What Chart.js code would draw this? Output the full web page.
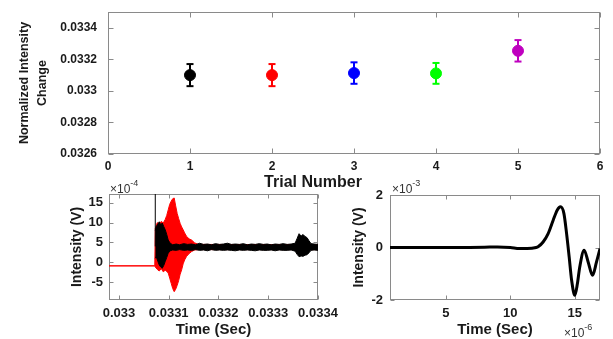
<!DOCTYPE html>
<html>
<head>
<meta charset="utf-8">
<script src="https://cdn.jsdelivr.net/npm/chart.js@4.4.1/dist/chart.umd.min.js"></script>
<style>
  body { margin: 0; background: #fff; }
  #fig { position: relative; width: 613px; height: 339px; overflow: hidden;
         font-family: "Liberation Sans", Arial, sans-serif; color: #1a1a1a; }
  #fig canvas { position: absolute; }
  .lbl { position: absolute; white-space: nowrap; line-height: 1; }
  .mult { font-size: 12px; color: #333; }
  .mult sup { font-size: 9px; position: relative; top: -2px; }
</style>
</head>
<body>
<div id="fig">
  <canvas id="trialChart" width="613" height="175" style="left:0;top:0"></canvas>
  <canvas id="burstChart" width="345" height="161" style="left:0;top:178px"></canvas>
  <canvas id="pulseChart" width="268" height="161" style="left:345px;top:178px"></canvas>
  <div class="lbl" style="left:313px;top:182px;transform:translate(-50%,-50%);font-size:16px;font-weight:bold">Trial Number</div>
  <div class="lbl mult" style="left:110px;top:181px">&times;10<sup>-4</sup></div>
  <div class="lbl mult" style="left:392px;top:181px">&times;10<sup>-3</sup></div>
  <div class="lbl mult" style="left:564px;top:325px">&times;10<sup>-6</sup></div>
</div>

<script>
// top panel: mean normalized change per trial, with error bars
const trialNo = [1, 2, 3, 4, 5];
const meanChange = [0.03310, 0.03310, 0.033113, 0.033111, 0.033254];
const errChange = [0.00007, 0.00007, 0.000068, 0.000066, 0.000068];
const trialColors = ['#000000', '#ff0000', '#0000ff', '#00ff00', '#bf00bf'];
const trialTicks = [0, 1, 2, 3, 4, 5, 6];
const changeTicks = [0.0326, 0.0328, 0.033, 0.0332, 0.0334];
const changeLabels = ['0.0326', '0.0328', '0.033', '0.0332', '0.0334'];

// bottom left: burst signal (seconds, x1e-4 V), drawn as upper/lower envelope
const redTime = [0.03298, 0.033072, 0.033073, 0.033077, 0.033081, 0.033085, 0.033089, 0.033093,
  0.033096, 0.033099, 0.033102, 0.033105, 0.033108, 0.033111, 0.033114, 0.033117, 0.03312,
  0.033123, 0.033126, 0.033129, 0.033132, 0.033136, 0.033141, 0.033146, 0.033152, 0.03316, 0.0334];
const redHigh = [-0.9, -0.9, 8.5, 10.0, 9.6, 10.3, 9.9, 10.8, 11.8, 13.2, 14.6, 15.4, 16.0, 16.2,
  14.2, 12.3, 11.0, 9.8, 8.9, 8.2, 7.4, 6.5, 5.9, 5.6, 4.9, 4.5, 4.4];
const redLow = [-0.9, -0.9, -1.2, -1.8, -2.2, -1.6, -2.4, -2.0, -2.3, -2.7, -4.0, -5.3, -6.6, -7.4,
  -6.8, -5.8, -4.6, -3.0, -1.9, -0.4, 0.6, 1.5, 2.2, 2.7, 3.1, 3.2, 3.2];

const blackTime = [0.033073, 0.033075, 0.033078, 0.033081, 0.033084, 0.033087, 0.03309, 0.033093,
  0.033096, 0.033099, 0.033103, 0.033108, 0.033115, 0.033122, 0.03313, 0.033138, 0.033146,
  0.033154, 0.033162, 0.03317, 0.033178, 0.033186, 0.033194, 0.033202, 0.03321, 0.033218,
  0.033226, 0.033234, 0.033242, 0.03325, 0.033258, 0.033266, 0.033274, 0.033282, 0.03329,
  0.033298, 0.033306, 0.033314, 0.033322, 0.03333, 0.033338, 0.033346, 0.033354, 0.033358,
  0.033362, 0.033366, 0.03337, 0.033374, 0.033378, 0.033382, 0.033386, 0.033392, 0.0334];
const blackHigh = [8.0, 9.0, 9.6, 10.2, 9.4, 9.9, 9.0, 8.2, 7.0, 5.6, 4.8, 4.4, 4.6, 4.4, 4.7, 4.5,
  4.6, 4.4, 4.8, 4.5, 4.6, 4.4, 4.7, 4.5, 4.6, 4.8, 4.5, 4.6, 4.5, 4.7, 4.4, 4.6, 4.5, 4.7, 4.5,
  4.6, 4.4, 4.6, 4.5, 4.7, 4.5, 4.6, 4.8, 6.0, 7.2, 6.6, 7.0, 6.5, 6.2, 5.4, 4.7, 4.6, 4.5];
const blackLow = [1.0, 1.4, 0.3, -0.7, -1.2, -1.5, -0.8, 0.2, 1.2, 2.3, 2.9, 3.1, 3.0, 3.2, 3.0, 3.1,
  3.0, 3.2, 3.0, 3.1, 2.9, 3.2, 3.0, 3.1, 3.0, 3.1, 3.0, 2.9, 3.1, 3.0, 3.1, 3.0, 2.9, 3.1, 3.0,
  3.0, 3.1, 2.9, 3.1, 3.0, 3.0, 3.1, 2.8, 2.0, 1.4, 1.6, 1.5, 1.8, 1.9, 2.4, 3.0, 3.1, 3.0];
const spikeTime = [0.033073, 0.033073];
const spikeValue = [4.0, 30];

const burstTimeTicks = [0.033, 0.0331, 0.0332, 0.0333, 0.0334];
const burstTimeLabels = ['0.033', '0.0331', '0.0332', '0.0333', '0.0334'];
const burstTicks = [-5, 0, 5, 10, 15];

// bottom right: single pulse (x1e-6 s, x1e-3 V)
const pulseTime = [0.67, 2, 4, 6, 8, 9, 10, 10.7, 11.3, 12.0, 12.15, 12.54, 12.93, 13.32, 13.63,
  13.89, 14.15, 14.36, 14.56, 14.75, 15.0, 15.2, 15.38, 15.72, 16.03, 16.37, 16.68, 16.95];
const pulseValue = [0, 0, 0, 0, 0.01, 0.02, 0.0, -0.04, -0.04, 0.0, 0.03, 0.21, 0.53, 1.04, 1.42,
  1.55, 1.3, 0.53, -0.36, -1.25, -1.82, -1.37, -0.74, -0.1, -0.55, -1.06, -0.55, -0.04];
const pulseTimeTicks = [5, 10, 15];
const pulseTicks = [-2, 0, 2];

const FONT = '"Liberation Sans", Arial, sans-serif';
const INK = '#1a1a1a';

// MATLAB style box with inward ticks on all four sides
const matlabBox = {
  id: 'matlabBox',
  beforeDatasetsDraw(chart, args, opts) {
    const { ctx, chartArea: a, scales } = chart;
    const len = opts.tickLen || 4;
    const L = Math.round(a.left) + 0.5, R = Math.round(a.right) - 0.5;
    const T = Math.round(a.top) + 0.5, B = Math.round(a.bottom) - 0.5;
    ctx.save();
    ctx.strokeStyle = '#8a8a8a';
    ctx.lineWidth = 1;
    ctx.strokeRect(L, T, R - L, B - T);
    ctx.beginPath();
    scales.x.ticks.forEach(t => {
      const px = Math.round(scales.x.getPixelForValue(t.value)) + 0.5;
      ctx.moveTo(px, B); ctx.lineTo(px, B - len);
      ctx.moveTo(px, T); ctx.lineTo(px, T + len);
    });
    scales.y.ticks.forEach(t => {
      const py = Math.round(scales.y.getPixelForValue(t.value)) + 0.5;
      ctx.moveTo(L, py); ctx.lineTo(L + len, py);
      ctx.moveTo(R, py); ctx.lineTo(R - len, py);
    });
    ctx.stroke();
    ctx.restore();
  }
};

function axis(opts) {
  // fixed-size axis so the plot area lands where the figure has it
  return {
    type: 'linear',
    min: opts.min,
    max: opts.max,
    grid: { display: false, drawTicks: false },
    border: { display: false },
    afterBuildTicks: s => { s.ticks = opts.ticks.map(v => ({ value: v })); },
    afterFit: s => {
      if (opts.width) s.width = opts.width;
      if (opts.height) s.height = opts.height;
      s.paddingLeft = 0; s.paddingRight = 0; s.paddingTop = 0; s.paddingBottom = 0;
    },
    ticks: {
      autoSkip: false,
      maxRotation: 0,
      padding: opts.pad,
      color: INK,
      font: { family: FONT, size: opts.fontSize || 13, weight: 'bold' },
      callback: (v, i) => opts.labels ? opts.labels[i] : String(v)
    },
    title: opts.title ? {
      display: true,
      text: opts.title,
      color: INK,
      font: { family: FONT, size: opts.titleSize, weight: 'bold', lineHeight: opts.titleLH || 1.2 },
      padding: opts.titlePad
    } : { display: false }
  };
}

function baseOptions(pad, tickLen, scales) {
  return {
    responsive: false,
    animation: false,
    events: [],
    layout: { padding: pad },
    plugins: { legend: { display: false }, tooltip: { enabled: false }, matlabBox: { tickLen: tickLen } },
    elements: { point: { radius: 0 } },
    scales: scales
  };
}

// ---- top chart
const trialSets = trialNo.map((t, i) => ({
  data: [{ x: t, y: meanChange[i] - errChange[i] }, { x: t, y: meanChange[i] + errChange[i] }],
  borderColor: trialColors[i],
  borderWidth: 2,
  pointStyle: 'line',
  pointRadius: 3.5,
  pointBorderWidth: 2,
  pointBorderColor: trialColors[i],
  order: 2
}));
trialSets.push({
  data: trialNo.map((t, i) => ({ x: t, y: meanChange[i] })),
  showLine: false,
  pointRadius: 5.5,
  pointBorderWidth: 1,
  pointBackgroundColor: trialColors,
  pointBorderColor: trialColors,
  order: 1
});

new Chart(document.getElementById('trialChart'), {
  type: 'line',
  data: { datasets: trialSets },
  options: baseOptions({ top: 12, right: 13, left: 0, bottom: 0 }, 5, {
    x: axis({ min: 0, max: 6, ticks: trialTicks, height: 21, pad: 5, fontSize: 12 }),
    y: axis({ min: 0.0326, max: 0.0335, ticks: changeTicks, labels: changeLabels, width: 108, pad: 11,
              fontSize: 12, title: ['Normalized Intensity', 'Change'], titleSize: 12.5, titleLH: 1.45,
              titlePad: { top: 15, bottom: 0 } })
  }),
  plugins: [matlabBox]
});

// ---- bottom left chart
const pts = (xs, ys) => xs.map((x, i) => ({ x: x, y: ys[i] }));
new Chart(document.getElementById('burstChart'), {
  type: 'line',
  data: {
    datasets: [
      { data: pts(spikeTime, spikeValue), borderColor: '#000', borderWidth: 1, order: 0 },
      { data: pts(blackTime, blackLow), borderColor: '#000', borderWidth: 1, order: 1 },
      { data: pts(blackTime, blackHigh), borderColor: '#000', borderWidth: 1, fill: '-1',
        backgroundColor: '#000', order: 1 },
      { data: pts(redTime, redLow), borderColor: '#ff0000', borderWidth: 1, order: 3 },
      { data: pts(redTime, redHigh), borderColor: '#ff0000', borderWidth: 1, fill: '-1',
        backgroundColor: '#ff0000', order: 3 }
    ]
  },
  options: baseOptions({ top: 16, right: 27, left: 0, bottom: 0 }, 4, {
    x: axis({ min: 0.03298, max: 0.0334, ticks: burstTimeTicks, labels: burstTimeLabels, height: 39,
              pad: 6, title: 'Time (Sec)', titleSize: 15, titlePad: { top: 0, bottom: 0 } }),
    y: axis({ min: -9.5, max: 17.2, ticks: burstTicks, width: 109, pad: 6,
              title: 'Intensity (V)', titleSize: 14, titlePad: { top: 69, bottom: 0 } })
  }),
  plugins: [matlabBox]
});

// ---- bottom right chart
new Chart(document.getElementById('pulseChart'), {
  type: 'line',
  data: {
    datasets: [{
      data: pts(pulseTime, pulseValue),
      borderColor: '#000',
      borderWidth: 3,
      cubicInterpolationMode: 'monotone'
    }]
  },
  options: baseOptions({ top: 17, right: 13, left: 0, bottom: 0 }, 4, {
    x: axis({ min: 0.67, max: 16.95, ticks: pulseTimeTicks, height: 39, pad: 6,
              title: 'Time (Sec)', titleSize: 15, titlePad: { top: 0, bottom: 0 } }),
    y: axis({ min: -2, max: 2, ticks: pulseTicks, width: 45, pad: 7,
              title: 'Intensity (V)', titleSize: 14, titlePad: { top: 6, bottom: 0 } })
  }),
  plugins: [matlabBox]
});
</script>
</body>
</html>
